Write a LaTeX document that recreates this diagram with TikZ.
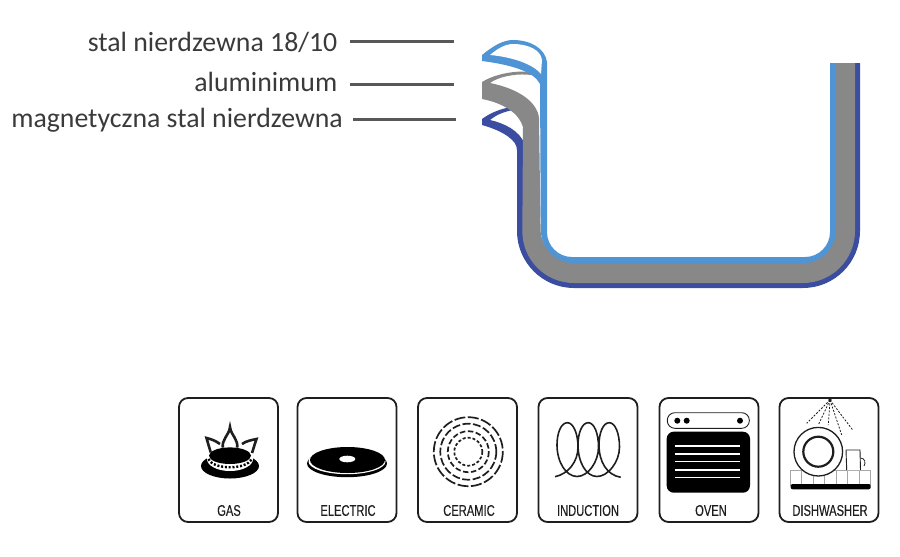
\documentclass[tikz,border=0pt]{standalone}
\usepackage{fontspec}
\setmainfont{Carlito}
\newfontfamily\iconfont[FakeStretch=0.72,FakeBold=0.25]{Liberation Sans}
\definecolor{steelblue}{HTML}{4F94D4}
\definecolor{alugray}{HTML}{888888}
\definecolor{magblue}{HTML}{3B4DA0}
\definecolor{leadgray}{HTML}{585858}
\definecolor{labeltext}{HTML}{3A3A3A}
\definecolor{icongray}{HTML}{1E1E1E}
\tikzset{
  partlabel/.style={anchor=base east,inner sep=0pt,text=labeltext,font=\fontsize{27.8pt}{30pt}\selectfont},
  leadline/.style={draw=leadgray,line width=3pt},
  iconbox/.style={draw=icongray,line width=1.8pt,rounded corners=9pt,minimum width=99pt,minimum height=124pt,inner sep=0pt},
  iconlabel/.style={inner sep=0pt,text=icongray,font=\iconfont\fontsize{15.5pt}{17pt}\selectfont},
  ring/.style={draw=icongray,line width=1.7pt},
  rack/.style={draw=gray!70,line width=0.8pt},
  flame/.style={icongray,line width=2.6pt,line join=miter}
}
\begin{document}
\begin{tikzpicture}[x=1pt,y=-1pt]
  \useasboundingbox (0,0) rectangle (900,557);
  \node[partlabel] (steel) at (337.5,51) {stal nierdzewna 18/10};
  \node[partlabel] (alu) at (337.5,91) {aluminimum};
  \node[partlabel] (mag) at (343,127.5) {magnetyczna stal nierdzewna};
  \coordinate (steelstart) at (350,41);
  \coordinate (steelend) at (454,41);
  \coordinate (alustart) at (350,84);
  \coordinate (aluend) at (454,84);
  \coordinate (magstart) at (353,119);
  \coordinate (magend) at (456,119);
  \draw[leadline] (steelstart) -- (steelend);
  \draw[leadline] (alustart) -- (aluend);
  \draw[leadline] (magstart) -- (magend);
  % pan wall
  \fill[magblue] (482,119) .. controls (490,113) and (500,109) .. (511,107)
    -- (513,110) .. controls (503,112) and (496,115) .. (490,120)
    .. controls (503,123) and (520,130) .. (525,145)
    [rounded corners=47pt] -- (527,278) -- (850,278) [sharp corners] -- (850,63)
    -- (860,63) [rounded corners=57pt] -- (860,288) -- (517,288) [sharp corners] -- (517,150)
    .. controls (517,140) and (503,131) .. (482,125) -- cycle;
  \fill[alugray] (482,82) .. controls (493,75) and (513,70) .. (531,72)
    -- (531,75) .. controls (515,73) and (498,77) .. (490,83)
    .. controls (515,88) and (537,100) .. (539,118)
    [rounded corners=30pt] -- (541,260) -- (833,260) [sharp corners] -- (833,63)
    -- (855,63) [rounded corners=52pt] -- (855,283) -- (522,283) [sharp corners] -- (523,127)
    .. controls (519,113) and (503,103) .. (482,99) -- cycle;
  \fill[steelblue] (482,55) .. controls (493,46) and (503,40) .. (513,40)
    .. controls (530,40) and (545,48) .. (547,62)
    [rounded corners=25pt] -- (547,257) -- (830,257) [sharp corners] -- (830,63)
    -- (836,63) [rounded corners=33pt] -- (836,263) -- (541,263) [sharp corners] -- (540,84)
    .. controls (534,72) and (513,65) .. (482,61) -- cycle;
  \fill[white] (490,55) .. controls (497,49) and (505,44) .. (513,44)
    .. controls (528,44) and (541,50) .. (542,60) -- (541,74)
    .. controls (533,64) and (512,57) .. (490,55) -- cycle;
  % icons
  \node[iconbox] (gas) at (228.5,460) {};
  \node[iconbox] (electric) at (347,460) {};
  \node[iconbox] (ceramic) at (467.5,460) {};
  \node[iconbox] (induction) at (588,460) {};
  \node[iconbox] (oven) at (709,460) {};
  \node[iconbox] (dishwasher) at (829,460) {};
  \node[iconlabel] (gaslabel) at (229,510.5) {GAS};
  \node[iconlabel] (electriclabel) at (348,510.5) {ELECTRIC};
  \node[iconlabel] (ceramiclabel) at (469,510.5) {CERAMIC};
  \node[iconlabel] (inductionlabel) at (588,510.5) {INDUCTION};
  \node[iconlabel] (ovenlabel) at (711,510.5) {OVEN};
  \node[iconlabel] (dishwasherlabel) at (830,510.5) {DISHWASHER};
  % gas
  \draw[flame] (223,449) .. controls (221,439) and (229,436) .. (230,427)
    .. controls (231,436) and (239,439) .. (237,449);
  \draw[flame] (211,453) .. controls (209,447) and (208,443) .. (206.5,438)
    .. controls (211,439) and (216,441) .. (220,444);
  \draw[flame] (252,453) .. controls (254,447) and (255,443) .. (256.5,439)
    .. controls (252,440) and (246,441) .. (242,444);
  \fill[black] (230,466) ellipse[x radius=29,y radius=12.5];
  \fill[white] (230,459) ellipse[x radius=23,y radius=12];
  \draw[black,line width=2.4pt,dash pattern=on 2pt off 1.8pt] (208.5,459) .. controls (213,470) and (247,470) .. (251.5,459);
  \fill[black] (230,455.7) ellipse[x radius=21,y radius=8.3];
  % electric
  \fill[black] (347,463.5) ellipse[x radius=40,y radius=13.7];
  \fill[white] (347,461.5) ellipse[x radius=38.5,y radius=12.7];
  \fill[black] (347.5,460) ellipse[x radius=37.5,y radius=13];
  \fill[white] (347.3,459) ellipse[x radius=8,y radius=3.3];
  % ceramic
  \draw[ring,dash pattern=on 11pt off 2.5pt] (468.3,451.7) circle[radius=34.5];
  \draw[ring,dash pattern=on 8pt off 2.5pt] (468.3,451.7) circle[radius=28];
  \draw[ring,dash pattern=on 5.5pt off 2.5pt] (468.3,451.7) circle[radius=20.5];
  \draw[ring,dash pattern=on 3pt off 2pt] (468.3,451.7) circle[radius=14];
  % induction
  \draw[icongray,line width=1.6pt] (555,476.7) .. controls (568,474) and (578,462) .. (578,447)
    .. controls (578,433) and (573,422.7) .. (567.5,422.7) .. controls (561,422.7) and (557,433) .. (557,445)
    .. controls (557,462) and (566,476.5) .. (577,476.5) .. controls (588,476.5) and (598.5,462) .. (598.5,447)
    .. controls (598.5,433) and (594,422.7) .. (588.3,422.7) .. controls (582,422.7) and (578,433) .. (578,445)
    .. controls (578,462) and (586,476.5) .. (597,476.5) .. controls (608,476.5) and (619.5,462) .. (619.5,447)
    .. controls (619.5,433) and (615,422.7) .. (609.3,422.7) .. controls (603,422.7) and (599,433) .. (599,445)
    .. controls (599,462) and (607,475) .. (620.7,477.3);
  % oven
  \draw[icongray,line width=0.9pt,rounded corners=7.5pt] (667.3,412.7) rectangle (749.3,428.3);
  \fill[black] (677.3,420.7) circle[radius=3];
  \fill[black] (686.7,420.7) circle[radius=3];
  \fill[black] (740,420.7) circle[radius=3];
  \fill[black,rounded corners=7pt] (666.7,431.7) rectangle (750,492.7);
  \draw[white,line width=1.3pt] (675,446) -- (740,446);
  \draw[white,line width=1.3pt] (675,454) -- (740,454);
  \draw[white,line width=1.3pt] (675,461.7) -- (740,461.7);
  \draw[white,line width=1.3pt] (675,470) -- (740,470);
  \draw[white,line width=1.3pt] (675,477.7) -- (740,477.7);
  % dishwasher
  \coordinate (spray) at (830,400);
  \fill[icongray] (spray) circle[radius=1.8];
  \draw[icongray,line width=0.8pt,dash pattern=on 2pt off 1.5pt] (spray) -- (806.7,423.3);
  \draw[icongray,line width=0.8pt,dash pattern=on 2pt off 1.5pt] (spray) -- (818.3,425);
  \draw[icongray,line width=0.8pt,dash pattern=on 2pt off 1.5pt] (spray) -- (828.3,425);
  \draw[icongray,line width=0.8pt,dash pattern=on 2pt off 1.5pt] (spray) -- (841.7,435);
  \draw[icongray,line width=0.8pt,dash pattern=on 2pt off 1.5pt] (spray) -- (852.7,430);
  \draw[rack] (790.7,470) rectangle (870.7,485);
  \draw[rack] (801.7,470) -- (801.7,485);
  \draw[rack] (813.3,470) -- (813.3,485);
  \draw[rack] (824,470) -- (824,485);
  \draw[rack] (836,470) -- (836,485);
  \draw[rack] (847.3,470) -- (847.3,485);
  \draw[rack] (859.3,470) -- (859.3,485);
  \draw[icongray,line width=1.3pt,fill=white] (818.3,451.7) circle[radius=24.3];
  \draw[icongray,line width=2.2pt] (818.3,451.7) circle[radius=15];
  \draw[icongray,line width=0.9pt,fill=white] (846.7,470) -- (846,450) -- (860,450) -- (860.5,470);
  \draw[icongray,line width=0.8pt] (860.5,458) .. controls (865,458) and (866,463) .. (864,466);
  \fill[black,rounded corners=2pt] (790.7,484) rectangle (870.7,489.3);
\end{tikzpicture}
\end{document}
